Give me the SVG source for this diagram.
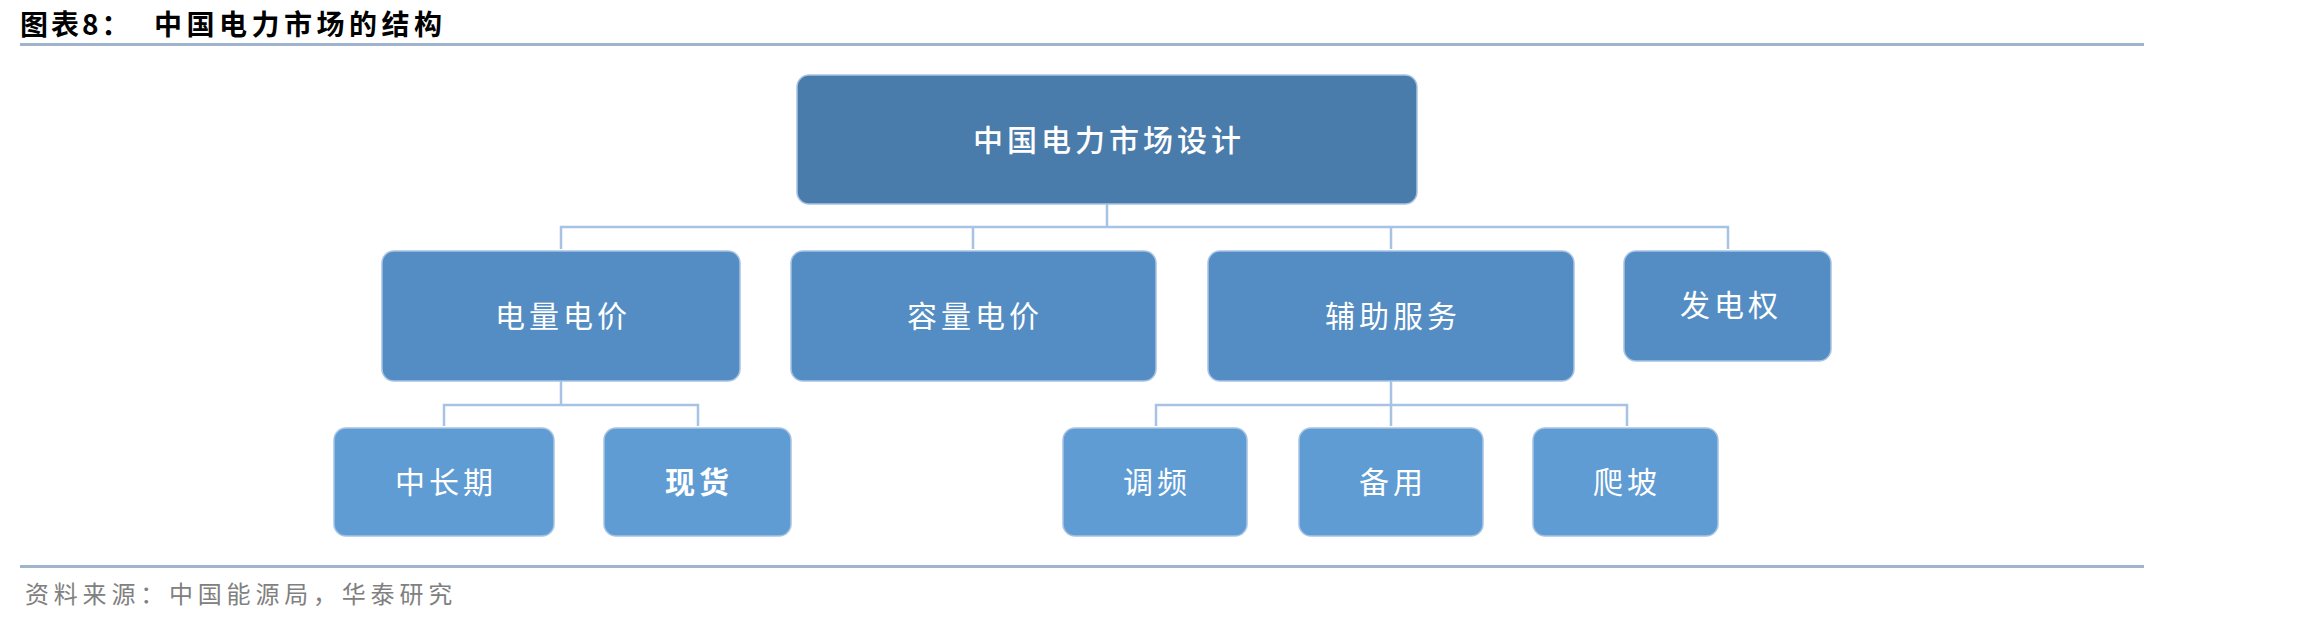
<svg xmlns="http://www.w3.org/2000/svg" width="2298" height="622" viewBox="0 0 2298 622">
<style>
.t{font-family:"Noto Sans CJK SC","Noto Sans CJK JP",sans-serif;fill:#fff;font-size:30px;letter-spacing:4px;text-anchor:middle;dominant-baseline:central}
.b{stroke:#a7c3e3;stroke-width:1.5}
.l1{fill:#4a7cab}
.l2{fill:#548dc3}
.l3{fill:#5f9cd4}
.c{fill:none;stroke:#a6c3e4;stroke-width:2.5}
.rule{stroke:#a0b5cd;stroke-width:3}
</style>
<g id="header">
<text x="20" y="23" font-family="'Noto Sans CJK SC',sans-serif" font-weight="700" font-size="28" letter-spacing="3" dominant-baseline="central" fill="#000">图表8：</text>
<text x="154" y="23" font-family="'Noto Sans CJK SC',sans-serif" font-weight="700" font-size="28" letter-spacing="4.5" dominant-baseline="central" fill="#000">中国电力市场的结构</text>
<line class="rule" x1="20" y1="44.5" x2="2144" y2="44.5"/>
</g>
<g id="connectors">
<path class="c" d="M1107 204V227M561 249V227H1728V249M973 227V249M1391 227V249"/>
<path class="c" d="M561 381V405M444 426V405H698V426"/>
<path class="c" d="M1391 381V426M1156 426V405H1627V426"/>
</g>
<g id="root"><rect class="l1 b" x="797" y="75" width="620" height="129" rx="12"/><text class="t" x="1109" y="138" font-size="31" font-weight="500">中国电力市场设计</text></g>
<g id="n-dlgj"><rect class="l2 b" x="382" y="251" width="358" height="130" rx="12"/><text class="t" x="563" y="314">电量电价</text></g>
<g id="n-rldj"><rect class="l2 b" x="791" y="251" width="365" height="130" rx="12"/><text class="t" x="975" y="314">容量电价</text></g>
<g id="n-fzfw"><rect class="l2 b" x="1208" y="251" width="366" height="130" rx="12"/><text class="t" x="1393" y="314">辅助服务</text></g>
<g id="n-fdq"><rect class="l2 b" x="1624" y="251" width="207" height="110" rx="12"/><text class="t" x="1731" y="303">发电权</text></g>
<g id="n-zcq"><rect class="l3 b" x="334" y="428" width="220" height="108" rx="12"/><text class="t" x="446" y="480">中长期</text></g>
<g id="n-xh"><rect class="l3 b" x="604" y="428" width="187" height="108" rx="12"/><text class="t" x="699" y="480" font-weight="700">现货</text></g>
<g id="n-tp"><rect class="l3 b" x="1063" y="428" width="184" height="108" rx="12"/><text class="t" x="1157" y="480">调频</text></g>
<g id="n-by"><rect class="l3 b" x="1299" y="428" width="184" height="108" rx="12"/><text class="t" x="1393" y="480">备用</text></g>
<g id="n-pp"><rect class="l3 b" x="1533" y="428" width="185" height="108" rx="12"/><text class="t" x="1627" y="480">爬坡</text></g>
<g id="footer">
<line class="rule" x1="20" y1="566.5" x2="2144" y2="566.5"/>
<text x="25" y="592" font-family="'Noto Sans CJK SC',sans-serif" font-size="24" letter-spacing="4.8" dominant-baseline="central" fill="#808080">资料来源：中国能源局，华泰研究</text>
</g>
</svg>
